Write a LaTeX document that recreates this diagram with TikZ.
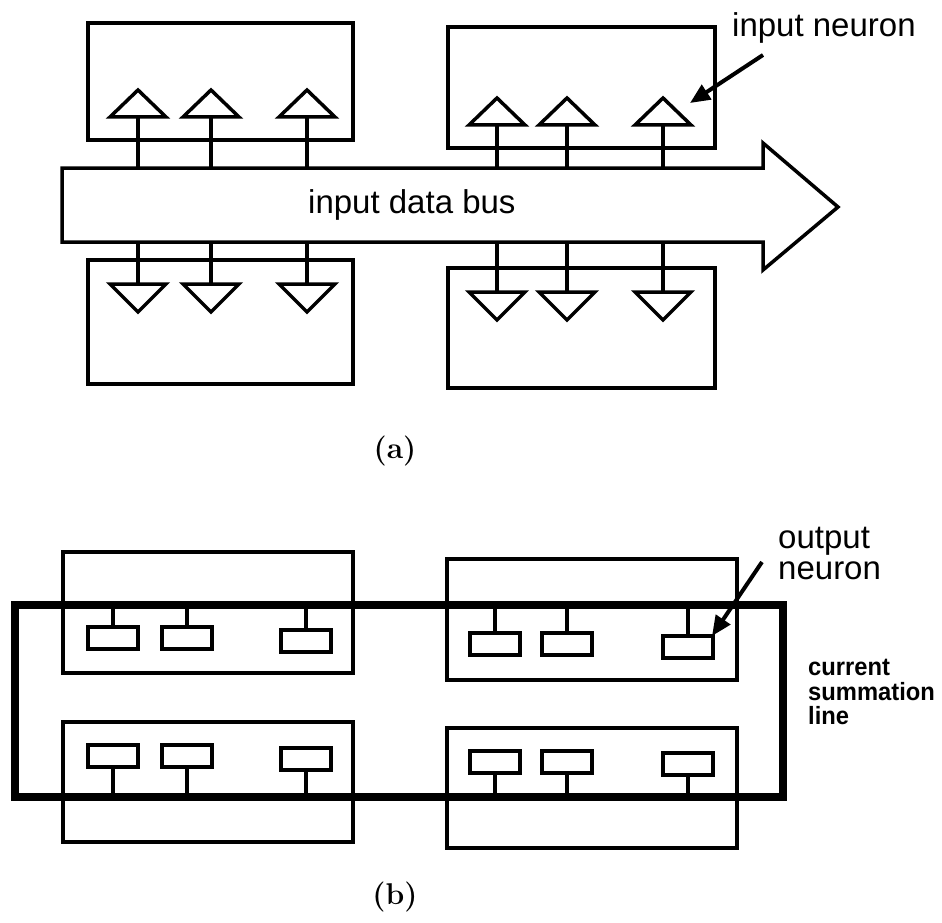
\documentclass[tikz,border=0pt]{standalone}
\usepackage{fontspec}
\usepackage{graphicx}
\newfontfamily\labelfont{Liberation Sans}
\usetikzlibrary{arrows.meta}

\newcommand{\narrowtext}[1]{\scalebox{0.95}[1]{#1}}

\tikzset{
  panel/.style={draw, line width=3.5pt, inner sep=0pt, outer sep=0pt,
                anchor=north west, fill=none},
  neuron/.style={draw, line width=3.5pt, line join=miter},
  stem/.style={line width=3.5pt},
  cell/.style={draw, line width=3.5pt, inner sep=0pt, outer sep=0pt,
               minimum width=50pt, minimum height=22pt, fill=white},
  busline/.style={draw, line width=3.5pt, line join=miter, fill=white},
  sumline/.style={line width=8pt, line join=miter},
  pointer/.style={line width=4pt, -{Triangle[length=20pt,width=17pt]}},
  lbl/.style={font=\labelfont\fontsize{33}{36}\selectfont, inner sep=0pt, anchor=base west},
  smalllbl/.style={font=\labelfont\bfseries\fontsize{25}{25}\selectfont, inner sep=0pt, anchor=base west},
  caption/.style={font=\bfseries\fontsize{30}{32}\selectfont, inner sep=0pt},
  upneuron/.pic={\draw[neuron] (-28,0) -- (0,-27) -- (28,0) -- cycle;},
  downneuron/.pic={\draw[neuron] (-28,0) -- (0,28) -- (28,0) -- cycle;}
}

\begin{document}
\begin{tikzpicture}[x=1pt, y=-1pt]
  % page frame
  \path[fill=white] (0,0) rectangle (942,923);
  \useasboundingbox (0,0) rectangle (942,923);

  % ---------------- (a) input side ----------------
  \node[panel, minimum width=265pt, minimum height=117pt] (inTL) at (88,23) {};
  \node[panel, minimum width=267pt, minimum height=121pt] (inTR) at (448,27) {};
  \node[panel, minimum width=265pt, minimum height=124pt] (inBL) at (88,260) {};
  \node[panel, minimum width=267pt, minimum height=120pt] (inBR) at (448,268) {};

  % data bus drawn as a broad arrow
  \draw[busline] (62,168) -- (763,168) -- (763,143) -- (838,207)
                 -- (763,270) -- (763,242) -- (62,242) -- cycle;
  \node[lbl] (busLabel) at (308,213) {input data bus};

  % input neurons above the bus
  \foreach \x in {138,211,307} {
    \path (\x,117) pic {upneuron};
    \draw[stem] (\x,117) -- (\x,168);
  }
  \foreach \x in {497,567,663} {
    \path (\x,125) pic {upneuron};
    \draw[stem] (\x,125) -- (\x,168);
  }
  % input neurons below the bus
  \foreach \x in {138,211,307} {
    \path (\x,284) pic {downneuron};
    \draw[stem] (\x,242) -- (\x,284);
  }
  \foreach \x in {497,567,663} {
    \path (\x,292) pic {downneuron};
    \draw[stem] (\x,242) -- (\x,292);
  }

  \node[lbl] (inNeuronLabel) at (732,37) {input neuron};
  \coordinate (inTail) at (763,55);
  \coordinate (inTip) at (690,103);
  \draw[pointer] (inTail) -- (inTip);

  \node[caption] (capA) at (395,451) {(a)};

  % ---------------- (b) output side ----------------
  \node[panel, minimum width=290pt, minimum height=121pt] (outTL) at (63,552) {};
  \node[panel, minimum width=290pt, minimum height=121pt] (outTR) at (447,559) {};
  \node[panel, minimum width=290pt, minimum height=120pt] (outBL) at (63,722) {};
  \node[panel, minimum width=290pt, minimum height=120pt] (outBR) at (447,728) {};

  % current summation line
  \draw[sumline] (15,605) rectangle (783,797);

  % output neurons hanging from the top run
  \foreach \x/\y [count=\i] in {113/638, 187/638, 306/641, 495/644, 567/644, 688/647} {
    \node[cell] (topCell\i) at (\x,\y) {};
    \draw[stem] (\x,605) -- (topCell\i.north);
  }
  % output neurons standing on the bottom run
  \foreach \x/\y [count=\i] in {113/756, 187/756, 306/759, 495/762, 567/762, 688/764} {
    \node[cell] (botCell\i) at (\x,\y) {};
    \draw[stem] (botCell\i.south) -- (\x,797);
  }

  \node[lbl] (outLabelA) at (778,548) {output};
  \node[lbl] (outLabelB) at (778,579) {neuron};
  \coordinate (outTail) at (762,562);
  \coordinate (outTip) at (712,636);
  \draw[pointer] (outTail) -- (outTip);

  \node[smalllbl] (sumLabelA) at (808,675) {\narrowtext{current}};
  \node[smalllbl] (sumLabelB) at (808,700) {\narrowtext{summation}};
  \node[smalllbl] (sumLabelC) at (808,724) {\narrowtext{line}};

  \node[caption] (capB) at (395,897) {(b)};
\end{tikzpicture}
\end{document}
